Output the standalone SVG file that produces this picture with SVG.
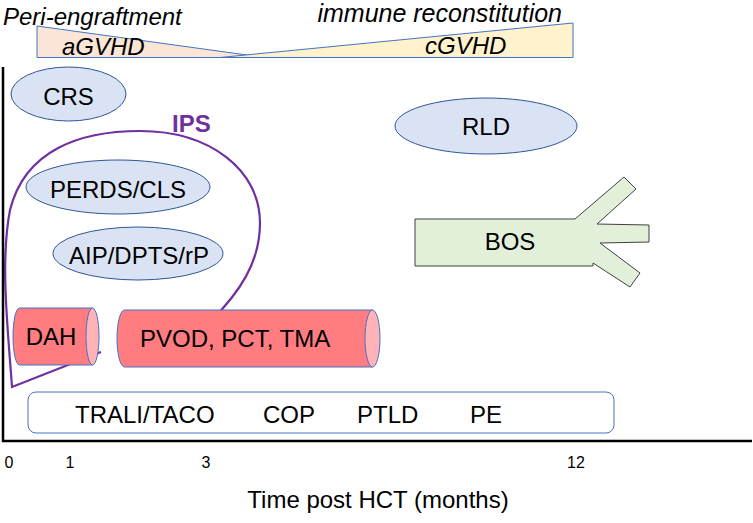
<svg xmlns="http://www.w3.org/2000/svg" width="753" height="523" viewBox="0 0 753 523">
<defs>
<style>
text{font-family:"Liberation Sans",Arial,sans-serif;font-size:24px;fill:#000}
.it{font-style:italic}
.ell{fill:#DAE3F3;stroke:#2F5597;stroke-width:1}
.cylb{fill:#FF7C80;stroke:#4472C4;stroke-width:1}
.cyle{fill:#FFB3B6;stroke:#4472C4;stroke-width:1}
.ax{stroke:#000;stroke-width:2.5;fill:none}
.tick{font-size:16px}
.c{text-anchor:middle}
</style>
</defs>
<rect width="753" height="523" fill="#fff"/>
<g id="phases">
<polygon points="37,26 37,57.5 265,57.5" fill="#FBE5D6" stroke="#4472C4" stroke-width="1"/>
<polygon points="220,57.5 573,23 573,57.5" fill="#FFF2CC" stroke="#4472C4" stroke-width="1"/>
<line x1="37" y1="57.5" x2="573" y2="57.5" stroke="#4472C4" stroke-width="1"/>
<text x="3" y="25" class="it">Peri-engraftment</text>
<text x="562" y="22" class="it" text-anchor="end" style="font-size:25px">immune reconstitution</text>
<text x="62" y="55" class="it">aGVHD</text>
<text x="425" y="54" class="it">cGVHD</text>
</g>
<g id="CRS"><ellipse cx="68.5" cy="94" rx="57.5" ry="27" class="ell"/><text x="68.5" y="105" class="c">CRS</text></g>
<g id="PERDS"><ellipse cx="118" cy="187" rx="92" ry="27" class="ell"/><text x="118" y="198" class="c">PERDS/CLS</text></g>
<g id="AIP"><ellipse cx="138" cy="253.5" rx="85" ry="26.5" class="ell"/><text x="139" y="264" class="c">AIP/DPTS/rP</text></g>
<g id="RLD"><ellipse cx="486" cy="126" rx="91" ry="28" class="ell"/><text x="486" y="135" class="c">RLD</text></g>
<g id="connectors">
<path id="IPS-callout" d="M101,352 L12,387 C8,330 0,262 10,210 C25,150 80,131 140,131 C210,131 260,170 260,223 C260,262 240,292 210,322 L195,340" fill="none" stroke="#7030A0" stroke-width="2.2" stroke-linejoin="miter"/>
</g>
<g id="IPS"><text x="172" y="132" font-weight="bold" style="fill:#7030A0">IPS</text></g>
<g id="DAH">
<path d="M92.5,308 L19.5,308 A6.5,28.5 0 0 0 19.5,365 L92.5,365 Z" class="cylb"/>
<ellipse cx="92.5" cy="336.5" rx="6.5" ry="28.5" class="cyle"/>
<text x="51" y="345" class="c">DAH</text>
</g>
<g id="PVOD">
<path d="M372.5,310 L124.5,310 A7.5,28.5 0 0 0 124.5,367 L372.5,367 Z" class="cylb"/>
<ellipse cx="372.5" cy="338.5" rx="7.5" ry="28.5" class="cyle"/>
<text x="140" y="347">PVOD, PCT, TMA</text>
</g>
<g id="late-box">
<rect x="28" y="392" width="586" height="41" rx="8" fill="#fff" stroke="#4472C4" stroke-width="1"/>
<text x="75" y="423">TRALI/TACO</text>
<text x="263" y="423">COP</text>
<text x="357" y="423">PTLD</text>
<text x="470" y="423">PE</text>
</g>
<g id="BOS">
<polygon points="415,219 575,219 624,177 636,189 597,224 649,225 649,242 600,243 640,273 630,287 593,263 593,266 415,266" fill="#E2F0D9" stroke="#404040" stroke-width="1"/>
<text x="510" y="250" class="c">BOS</text>
</g>
<g id="axes">
<polyline points="3,67 3,441 752,441" class="ax"/>
<text x="9" y="468" class="tick c">0</text>
<text x="70" y="468" class="tick c">1</text>
<text x="206" y="468" class="tick c">3</text>
<text x="576" y="468" class="tick c">12</text>
<text x="378" y="508" class="c">Time post HCT (months)</text>
</g>
</svg>
